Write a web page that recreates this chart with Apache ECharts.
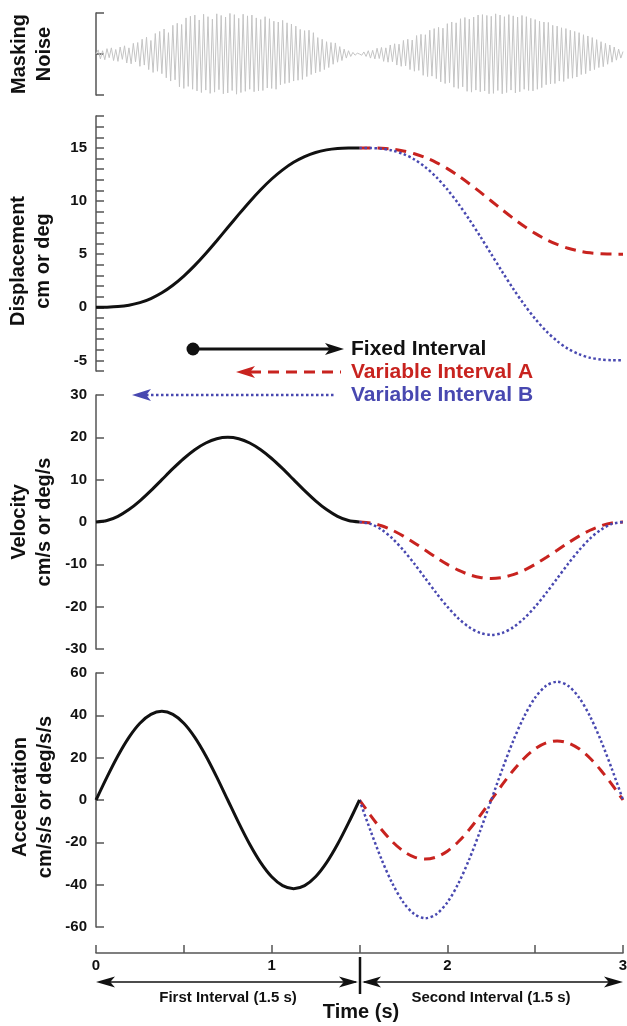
<!DOCTYPE html>
<html style="height: 100%">
<head>
<meta charset="utf-8">
</head>
<body style="height: 100%; margin: 0; background: #fff">
	<div id="container" style="width: 627px; height: 1026px"></div>
	<script type="text/javascript"
		src="https://cdn.jsdelivr.net/npm/echarts/dist/echarts.min.js"></script>
	<script type="text/javascript">
		// sample times (s) for the two movement intervals
		var timesFirst = [ 0, 0.0625, 0.125, 0.1875, 0.25, 0.3125, 0.375, 0.4375, 0.5, 0.5625, 0.625, 0.6875,
				0.75, 0.8125, 0.875, 0.9375, 1, 1.0625, 1.125, 1.1875, 1.25, 1.3125, 1.375, 1.4375, 1.5 ];
		var timesSecond = [ 1.5, 1.5625, 1.625, 1.6875, 1.75, 1.8125, 1.875, 1.9375, 2, 2.0625, 2.125, 2.1875,
				2.25, 2.3125, 2.375, 2.4375, 2.5, 2.5625, 2.625, 2.6875, 2.75, 2.8125, 2.875, 2.9375, 3 ];

		// displacement (cm or deg)
		var dispFixed = [ 0, 0.01, 0.06, 0.19, 0.43, 0.82, 1.36, 2.07, 2.93, 3.94, 5.06, 6.26, 7.5, 8.74,
				9.94, 11.06, 12.07, 12.93, 13.64, 14.18, 14.57, 14.81, 14.94, 14.99, 15 ];
		var dispA = [ 15, 15, 14.96, 14.88, 14.71, 14.45, 14.09, 13.62, 13.05, 12.38, 11.63, 10.83, 10, 9.17,
				8.37, 7.62, 6.95, 6.38, 5.91, 5.55, 5.29, 5.12, 5.04, 5, 5 ];
		var dispB = [ 15, 14.99, 14.92, 14.75, 14.42, 13.91, 13.18, 12.24, 11.09, 9.75, 8.26, 6.66, 5, 3.34,
				1.74, 0.25, -1.09, -2.24, -3.18, -3.91, -4.42, -4.75, -4.92, -4.99, -5 ];

		// velocity (cm/s or deg/s)
		var velFixed = [ 0, 0.34, 1.34, 2.93, 5, 7.41, 10, 12.59, 15, 17.07, 18.66, 19.66, 20, 19.66, 18.66,
				17.07, 15, 12.59, 10, 7.41, 5, 2.93, 1.34, 0.34, 0 ];
		var velA = [ 0, -0.23, -0.89, -1.95, -3.33, -4.94, -6.67, -8.39, -10, -11.38, -12.44, -13.11, -13.33,
				-13.11, -12.44, -11.38, -10, -8.39, -6.67, -4.94, -3.33, -1.95, -0.89, -0.23, 0 ];
		var velB = [ 0, -0.45, -1.79, -3.91, -6.67, -9.88, -13.33, -16.79, -20, -22.76, -24.88, -26.21, -26.67,
				-26.21, -24.88, -22.76, -20, -16.79, -13.33, -9.88, -6.67, -3.91, -1.79, -0.45, 0 ];

		// acceleration (cm/s/s or deg/s/s)
		var accFixed = [ 0, 10.84, 20.94, 29.62, 36.28, 40.46, 41.89, 40.46, 36.28, 29.62, 20.94, 10.84, 0,
				-10.84, -20.94, -29.62, -36.28, -40.46, -41.89, -40.46, -36.28, -29.62, -20.94, -10.84, 0 ];
		var accA = [ 0, -7.23, -13.96, -19.75, -24.18, -26.97, -27.93, -26.97, -24.18, -19.75, -13.96, -7.23, 0,
				7.23, 13.96, 19.75, 24.18, 26.97, 27.93, 26.97, 24.18, 19.75, 13.96, 7.23, 0 ];
		var accB = [ 0, -14.46, -27.93, -39.49, -48.37, -53.95, -55.85, -53.95, -48.37, -39.49, -27.93, -14.46, 0,
				14.46, 27.93, 39.49, 48.37, 53.95, 55.85, 53.95, 48.37, 39.49, 27.93, 14.46, 0 ];

		// masking noise, % of full scale, 240 steps over 3 s
		var noise = [
			0, 10, -12, 8, -14, 13, -9, 15, -16, 11, -18, 17, -13, 20, -22, 15, -24, 26, -19, 28,
			-30, 36, -27, 41, -38, 33, -45, 50, -42, 55, -48, 61, -58, 52, -66, 70, -63, 75, -80, 72,
			-84, 88, -79, 92, -86, 95, -90, 83, -94, 97, -88, 91, -96, 85, -93, 98, -87, 94, -97, 90,
			-95, 99, -89, 96, -98, 87, -94, 97, -91, 93, -86, 95, -92, 88, -90, 84, -89, 91, -83, 86,
			-84, 80, -86, 78, -75, 82, -72, 76, -70, 73, -66, 68, -64, 60, -62, 57, -55, 58, -50, 52,
			-46, 40, -43, 36, -38, 30, -33, 28, -25, 27, -20, 18, -16, 12, -10, 8, -6, 4, -3, 2,
			0, -3, 5, -6, 8, -10, 9, -12, 14, -11, 16, -18, 15, -20, 22, -19, 25, -27, 24, -30,
			33, -29, 36, -38, 34, -42, 45, -40, 48, -52, 47, -55, 58, -54, 62, -60, 65, -68, 63, -72,
			74, -70, 78, -81, 76, -84, 86, -80, 89, -91, 85, -93, 90, -88, 95, -92, 96, -90, 94, -97,
			92, -96, 98, -89, 95, -97, 91, -94, 96, -88, 93, -95, 90, -92, 94, -86, 91, -89, 87, -90,
			84, -86, 80, -82, 78, -75, 77, -73, 70, -72, 68, -66, 64, -67, 62, -60, 58, -59, 55, -56,
			52, -50, 47, -48, 44, -41, 40, -38, 35, -33, 30, -31, 26, -25, 22, -20, 17, -15, 12, -10,
			6 ];

		var FONT = "'Liberation Sans', Arial, Helvetica, sans-serif";
		var BLACK = '#111111';
		var RED = '#c8231f';
		var BLUE = '#4848b0';
		var AXIS = '#555555';

		var dom = document.getElementById("container");
		var myChart = echarts.init(dom, null, { renderer : 'canvas' });

		function pairs(times, values) {
			return times.map(function(t, i) {
				return [ t, values[i] ];
			});
		}

		function curve(idx, times, values, color, width, dash) {
			return {
				type : 'line',
				xAxisIndex : idx,
				yAxisIndex : idx,
				data : pairs(times, values),
				smooth : 0.3,
				symbol : 'none',
				silent : true,
				lineStyle : {
					color : color,
					width : width,
					type : dash || 'solid',
					cap : 'butt'
				},
				z : dash ? 3 : 4
			};
		}

		function gridAt(top, height) {
			return {
				left : 96,
				right : 4,
				top : top,
				height : height,
				containLabel : false,
				outerBoundsMode : 'none'
			};
		}

		function yAxisDef(idx, min, max, interval, fmt) {
			return {
				type : 'value',
				gridIndex : idx,
				min : min,
				max : max,
				interval : interval,
				axisLine : {
					show : true,
					lineStyle : { color : AXIS, width : 1.5 }
				},
				axisTick : {
					show : true,
					inside : true,
					length : 8,
					lineStyle : { color : AXIS, width : 1.5 }
				},
				splitLine : { show : false },
				axisLabel : {
					show : idx !== 0,
					margin : 9,
					fontFamily : FONT,
					fontWeight : 'bold',
					fontSize : 15,
					color : BLACK,
					formatter : fmt
				}
			};
		}

		function hiddenX(idx) {
			return {
				type : 'value',
				gridIndex : idx,
				min : 0,
				max : 3,
				show : false
			};
		}

		function title(x, y, txt) {
			return {
				type : 'text',
				x : x,
				y : y,
				rotation : Math.PI / 2,
				silent : true,
				style : {
					text : txt,
					fill : BLACK,
					font : 'bold 20px ' + FONT,
					lineHeight : 25,
					align : 'center',
					verticalAlign : 'middle',
					textAlign : 'center',
					textVerticalAlign : 'middle'
				}
			};
		}

		function label(x, y, txt, size, color, align) {
			return {
				type : 'text',
				x : x,
				y : y,
				silent : true,
				style : {
					text : txt,
					fill : color,
					font : 'bold ' + size + 'px ' + FONT,
					align : align,
					verticalAlign : 'middle',
					textAlign : align,
					textVerticalAlign : 'middle'
				}
			};
		}

		function hline(x1, x2, y, color, width, dash) {
			return {
				type : 'line',
				silent : true,
				shape : { x1 : x1, y1 : y, x2 : x2, y2 : y },
				style : {
					stroke : color,
					lineWidth : width,
					lineDash : dash || null
				}
			};
		}

		// arrow head, tip at (x, y), dir = 1 points right, -1 left
		function head(x, y, dir, color, len, half) {
			return {
				type : 'polygon',
				silent : true,
				shape : {
					points : [ [ x, y ], [ x - dir * len, y - half ],
							[ x - dir * len * 0.75, y ], [ x - dir * len, y + half ] ]
				},
				style : { fill : color }
			};
		}

		var option = {
			animation : false,
			backgroundColor : '#ffffff',
			grid : [ gridAt(13, 82), gridAt(116, 255), gridAt(395, 254), gridAt(673, 254) ],
			xAxis : [ {
				type : 'category',
				gridIndex : 0,
				boundaryGap : false,
				data : noise.map(function(v, i) {
					return i;
				}),
				show : false
			}, hiddenX(1), hiddenX(2), {
				type : 'value',
				gridIndex : 3,
				min : 0,
				max : 3,
				interval : 0.5,
				position : 'bottom',
				offset : 26,
				axisLine : {
					show : true,
					onZero : false,
					lineStyle : { color : AXIS, width : 1.5 }
				},
				axisTick : {
					show : true,
					inside : true,
					length : 8,
					lineStyle : { color : AXIS, width : 1.5 }
				},
				splitLine : { show : false },
				axisLabel : {
					margin : 5,
					fontFamily : FONT,
					fontWeight : 'bold',
					fontSize : 15,
					color : BLACK,
					formatter : function(v) {
						return v % 1 === 0 ? String(v) : '';
					}
				}
			} ],
			yAxis : [ yAxisDef(0, -100, 100, 100), yAxisDef(1, -6, 18, 1, function(v) {
				return v % 5 === 0 ? String(v) : '';
			}), yAxisDef(2, -30, 30, 10), yAxisDef(3, -60, 60, 20) ],
			series : [ {
				type : 'line',
				xAxisIndex : 0,
				yAxisIndex : 0,
				data : noise,
				symbol : 'none',
				silent : true,
				lineStyle : { color : '#c4c4c4', width : 1 }
			},
				curve(1, timesSecond, dispA, RED, 3, [ 11, 7 ]),
				curve(1, timesSecond, dispB, BLUE, 2.5, [ 2.5, 2.5 ]),
				curve(1, timesFirst, dispFixed, BLACK, 3),
				curve(2, timesSecond, velA, RED, 3, [ 11, 7 ]),
				curve(2, timesSecond, velB, BLUE, 2.5, [ 2.5, 2.5 ]),
				curve(2, timesFirst, velFixed, BLACK, 3),
				curve(3, timesSecond, accA, RED, 3, [ 11, 7 ]),
				curve(3, timesSecond, accB, BLUE, 2.5, [ 2.5, 2.5 ]),
				curve(3, timesFirst, accFixed, BLACK, 3) ],
			graphic : [
				title(32, 54, 'Masking\nNoise'),
				title(31, 261, 'Displacement\ncm or deg'),
				title(32, 522, 'Velocity\ncm/s or deg/s'),
				title(33, 797, 'Acceleration\ncm/s/s or deg/s/s'),
				// legend arrows
				{
					type : 'circle',
					silent : true,
					shape : { cx : 193, cy : 349, r : 6.5 },
					style : { fill : BLACK }
				},
				hline(193, 332, 349, BLACK, 3),
				head(344, 349, 1, BLACK, 19, 6),
				hline(250, 341, 372, RED, 3, [ 11, 7 ]),
				head(236, 372, -1, RED, 19, 6),
				hline(146, 334, 395, BLUE, 2.5, [ 2.5, 2.5 ]),
				head(132, 395, -1, BLUE, 19, 6),
				label(351, 349, 'Fixed Interval', 21, BLACK, 'left'),
				label(351, 372, 'Variable Interval A', 21, RED, 'left'),
				label(351, 395, 'Variable Interval B', 21, BLUE, 'left'),
				// interval arrows under the time axis
				hline(100, 356, 982, BLACK, 1.5),
				hline(364, 619, 982, BLACK, 1.5),
				head(96, 982, -1, BLACK, 19, 5.5),
				head(358, 982, 1, BLACK, 19, 5.5),
				head(362, 982, -1, BLACK, 19, 5.5),
				head(623, 982, 1, BLACK, 19, 5.5),
				{
					type : 'line',
					silent : true,
					shape : { x1 : 360, y1 : 957, x2 : 360, y2 : 994 },
					style : { stroke : BLACK, lineWidth : 2.5 }
				},
				label(228, 998, 'First Interval (1.5 s)', 15, BLACK, 'center'),
				label(491, 998, 'Second Interval (1.5 s)', 15, BLACK, 'center'),
				label(361, 1012, 'Time (s)', 20, BLACK, 'center') ]
		};
		myChart.setOption(option);
	</script>
</body>
</html>
